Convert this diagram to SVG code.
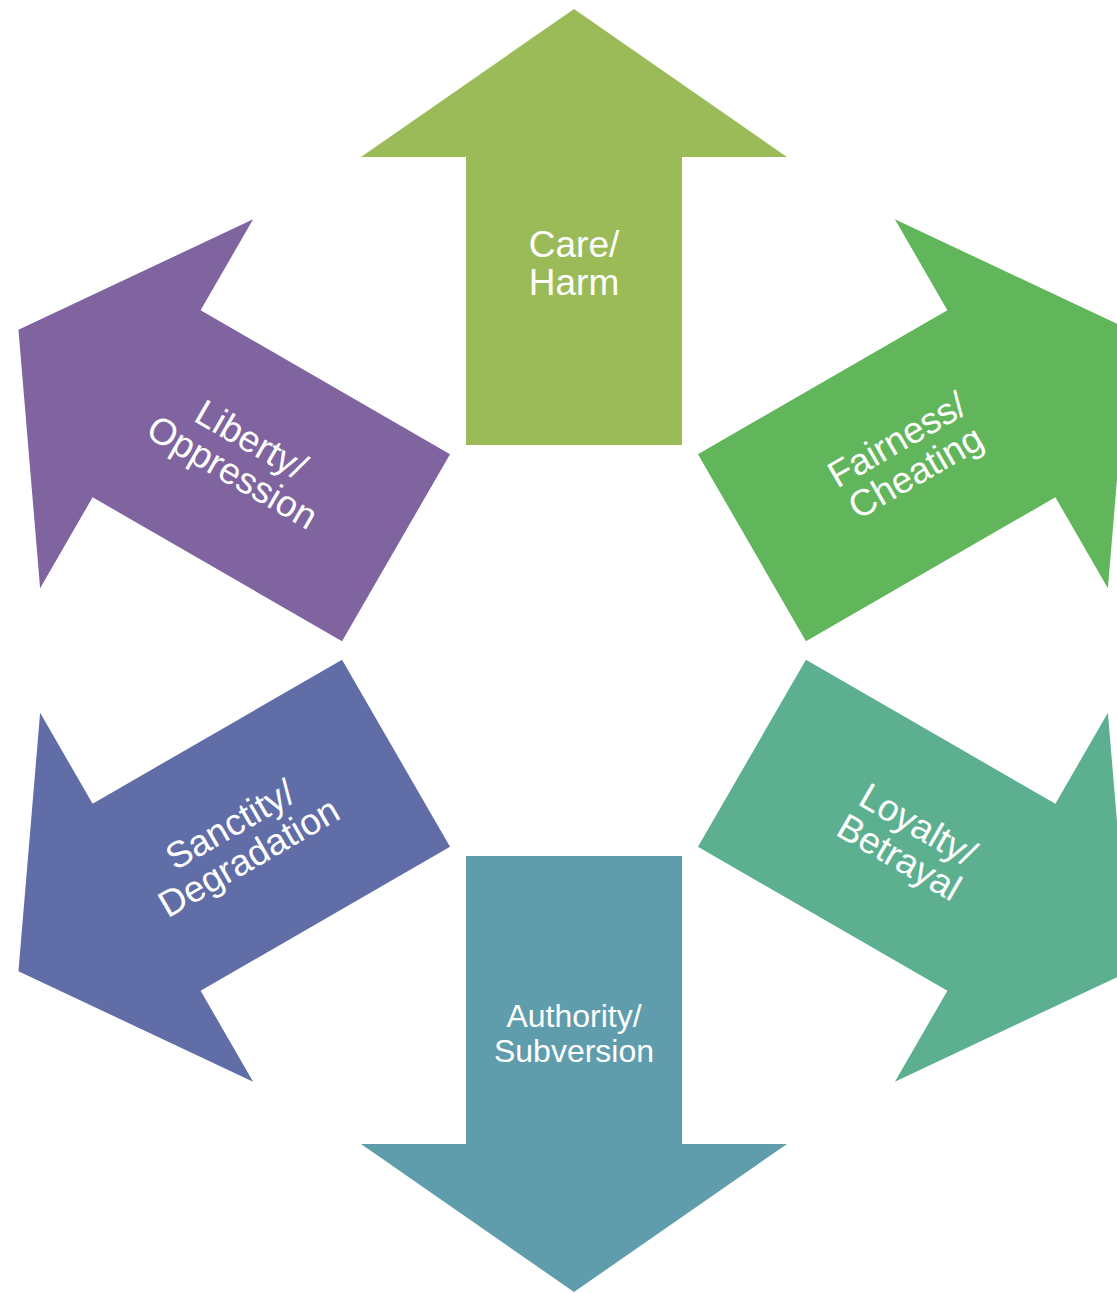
<svg xmlns="http://www.w3.org/2000/svg" width="1117" height="1293" viewBox="0 0 1117 1293">
<style>
  .lbl { font-family: "Liberation Sans", Arial, sans-serif; fill: #FFFFFF; text-anchor: middle; }
  .big { font-size: 37px; }
  .small { font-size: 32px; }
</style>
<defs>
  <path id="arrow" d="M466,445 V157 H361 L574,9 L787,157 H682 V445 Z"/>
</defs>
<rect width="1117" height="1293" fill="#FFFFFF"/>
<g id="connectors"></g>
<g id="care">
  <use href="#arrow" fill="#9BBB59"/>
  <g transform="translate(574,265.5)"><text class="lbl big" y="-8.5">Care/</text><text class="lbl big" y="29">Harm</text></g>
</g>
<g id="fairness">
  <use href="#arrow" fill="#61B65B" transform="rotate(60 574 650.5)"/>
  <g transform="translate(907.4,458) rotate(-30)"><text class="lbl big" y="-8.5">Fairness/</text><text class="lbl big" y="29">Cheating</text></g>
</g>
<g id="loyalty">
  <use href="#arrow" fill="#5DB08F" transform="rotate(120 574 650.5)"/>
  <g transform="translate(907.4,843) rotate(30)"><text class="lbl big" y="-8.5">Loyalty/</text><text class="lbl big" y="29">Betrayal</text></g>
</g>
<g id="authority">
  <use href="#arrow" fill="#5F9CAC" transform="rotate(180 574 650.5)"/>
  <g transform="translate(574,1035.5)"><text class="lbl small" y="-8.2">Authority/</text><text class="lbl small" y="26.2">Subversion</text></g>
</g>
<g id="sanctity">
  <use href="#arrow" fill="#606DA7" transform="rotate(240 574 650.5)"/>
  <g transform="translate(240.6,843) rotate(-30)"><text class="lbl big" y="-8.5">Sanctity/</text><text class="lbl big" y="29">Degradation</text></g>
</g>
<g id="liberty">
  <use href="#arrow" fill="#7F64A0" transform="rotate(300 574 650.5)"/>
  <g transform="translate(240.6,458) rotate(30)"><text class="lbl big" y="-8.5">Liberty/</text><text class="lbl big" y="29">Oppression</text></g>
</g>
</svg>
